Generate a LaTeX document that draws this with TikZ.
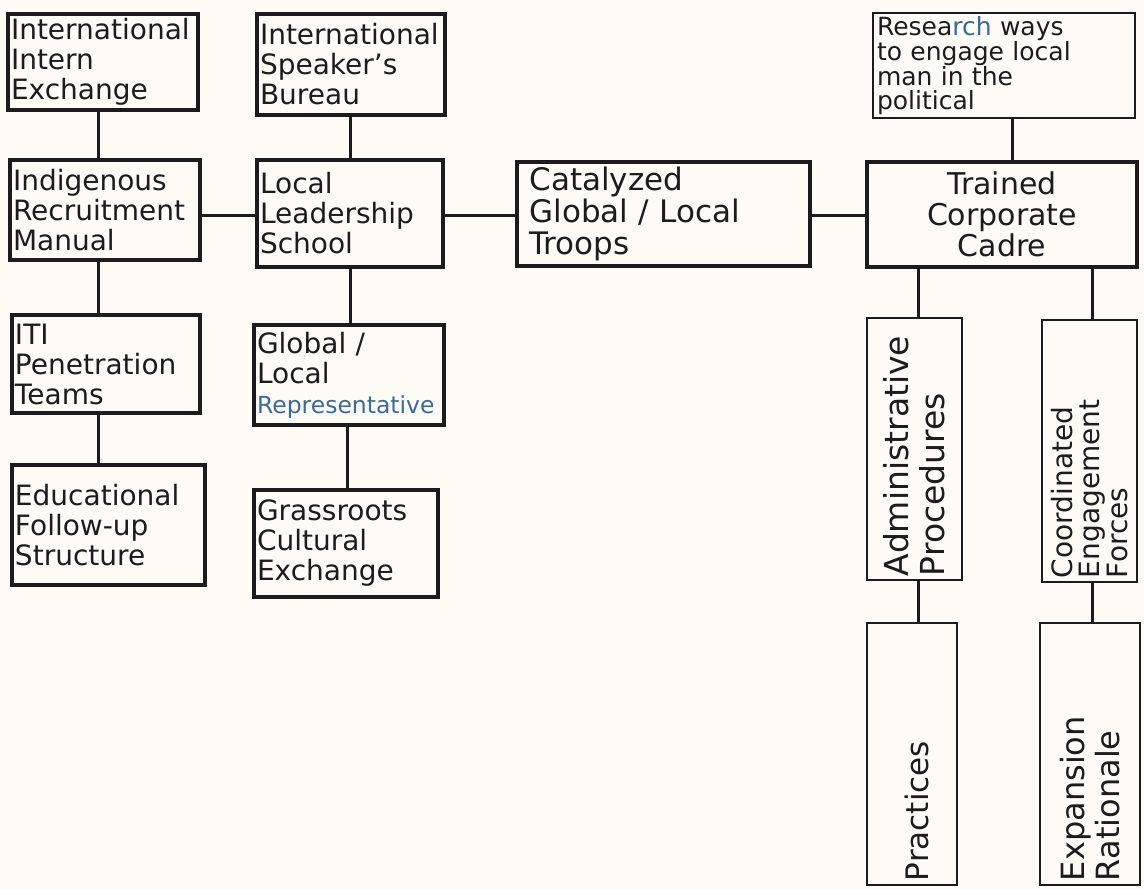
\documentclass[tikz,border=0pt]{standalone}
\usepackage{fontspec}
\setmainfont{DejaVu Sans}
\definecolor{ink}{HTML}{1C1C1C}
\definecolor{pen}{HTML}{3A6A9C}
\definecolor{paper}{HTML}{FCFBF6}
\begin{document}
\begin{tikzpicture}[x=1pt,y=-1pt,
  box/.style={draw=ink, line width=3.5pt, inner sep=3pt, align=left, text=ink,
    font=\fontsize{28}{30}\selectfont},
  thinbox/.style={box, line width=2.5pt},
  conn/.style={draw=ink, line width=3pt}]
\fill[paper] (0,0) rectangle (1144,889);
\useasboundingbox (0,0) rectangle (1144,889);
% column / row guides for connectors
\coordinate (cA) at (98,0);
\coordinate (cB) at (350,0);
\coordinate (cB2) at (347,0);
\coordinate (cE) at (918,0);
\coordinate (cF) at (1092,0);
\coordinate (cR) at (1012,0);
\coordinate (rM) at (0,215);
% left column
\node[box, minimum width=190pt, minimum height=96pt, text width=184pt] (iie) at (103,62)
  {International\\Intern\\Exchange};
\node[box, minimum width=190pt, minimum height=100pt, text width=184pt] (irm) at (105,210)
  {Indigenous\\Recruitment\\Manual};
\node[box, minimum width=188pt, minimum height=98pt, text width=182pt] (iti) at (106,364)
  {ITI\\Penetration\\Teams};
\node[box, minimum width=193pt, minimum height=120pt, text width=187pt] (efs) at (108.5,525)
  {Educational\\Follow-up\\Structure};
% second column
\node[box, minimum width=188pt, minimum height=101pt, text width=182pt] (isb) at (351,64.5)
  {International\\Speaker{\char"0027}s\\Bureau};
\node[box, minimum width=186pt, minimum height=107pt, text width=180pt] (lls) at (350,213.5)
  {Local\\Leadership\\School};
\node[box, minimum width=190pt, minimum height=100pt, text width=184pt] (glr) at (349,375)
  {Global /\\Local\\{\fontsize{23.5}{30}\selectfont\color{pen}Representative}};
\node[box, minimum width=184pt, minimum height=107pt, text width=178pt] (gce) at (346,543.5)
  {Grassroots\\Cultural\\Exchange};
% centre
\node[box, minimum width=293pt, minimum height=104pt, text width=268pt,
  font=\fontsize{31}{32}\selectfont] (cgt) at (663.5,214)
  {Catalyzed\\Global / Local\\Troops};
% right
\node[thinbox, minimum width=262pt, minimum height=99pt, text width=254pt,
  font=\fontsize{25}{24}\selectfont] (rw) at (1004,65.5)
  {Resea{\color{pen}rch} ways\\to engage local\\man in the\\political};
\node[box, align=center, minimum width=270pt, minimum height=105pt, text width=262pt,
  font=\fontsize{30}{31}\selectfont] (tcc) at (1002,214.5)
  {Trained\\Corporate\\Cadre};
\node[thinbox, rotate=90, minimum width=262pt, minimum height=95pt, text width=254pt,
  font=\fontsize{33}{36}\selectfont] (ap) at (914.5,449)
  {Administrative\\Procedures};
\node[thinbox, rotate=90, minimum width=262pt, minimum height=95pt, text width=254pt,
  font=\fontsize{28}{27.5}\selectfont] (cef) at (1089.5,451)
  {Coordinated\\Engagement\\Forces};
\node[thinbox, rotate=90, minimum width=262pt, minimum height=90pt, text width=254pt,
  font=\fontsize{31}{34}\selectfont] (pr) at (912,754)
  {\\Practices};
\node[thinbox, rotate=90, minimum width=262pt, minimum height=100pt, text width=254pt,
  font=\fontsize{32}{35}\selectfont] (er) at (1090,754)
  {Expansion\\Rationale};
% connectors
\draw[conn] (iie.south -| cA) -- (irm.north -| cA);
\draw[conn] (irm.south -| cA) -- (iti.north -| cA);
\draw[conn] (iti.south -| cA) -- (efs.north -| cA);
\draw[conn] (isb.south -| cB) -- (lls.north -| cB);
\draw[conn] (lls.south -| cB) -- (glr.north -| cB);
\draw[conn] (glr.south -| cB2) -- (gce.north -| cB2);
\draw[conn] (irm.east |- rM) -- (lls.west |- rM);
\draw[conn] (lls.east |- rM) -- (cgt.west |- rM);
\draw[conn] (cgt.east |- rM) -- (tcc.west |- rM);
\draw[conn] (rw.south -| cR) -- (tcc.north -| cR);
\draw[conn] (tcc.south -| cE) -- (ap.east -| cE);
\draw[conn] (tcc.south -| cF) -- (cef.east -| cF);
\draw[conn] (ap.west -| cE) -- (pr.east -| cE);
\draw[conn] (cef.west -| cF) -- (er.east -| cF);
\end{tikzpicture}
\end{document}
